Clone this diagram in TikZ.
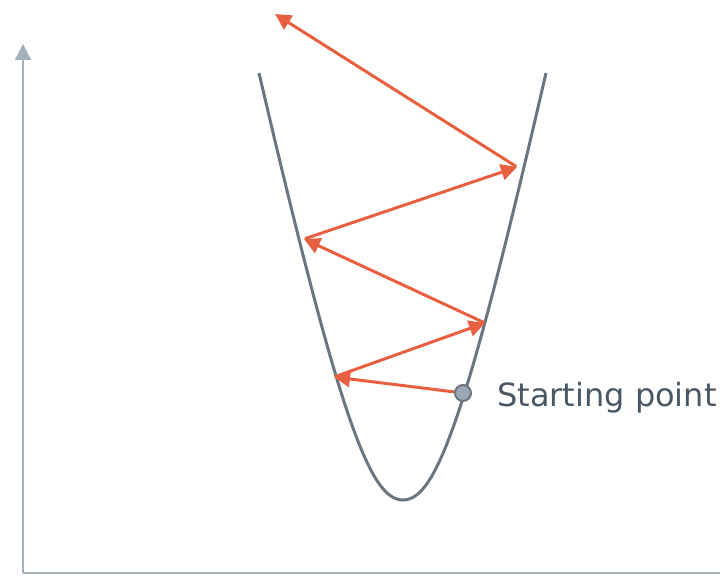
\documentclass[tikz,border=0pt]{standalone}
\usepackage{fontspec}
\setmainfont{DejaVu Sans}
\usetikzlibrary{arrows.meta,positioning}
\definecolor{axisgray}{HTML}{A3B0BB}
\definecolor{valleygray}{HTML}{6B7681}
\definecolor{stepred}{HTML}{E8603F}
\definecolor{dotfill}{HTML}{9AA7B4}
\definecolor{textgray}{HTML}{4A5866}
\tikzset{
  axisline/.style={axisgray,line width=1.4pt},
  valley/.style={valleygray,line width=3pt},
  steparrow/.style={->,stepred,line width=3pt,shorten <=1pt},
  startdot/.style={circle,fill=dotfill,draw=valleygray,line width=2pt,minimum size=16pt,inner sep=0pt},
}

\begin{document}
\begin{tikzpicture}[x=1pt,y=-1pt,>={Triangle[length=16pt,width=16pt]}]
\useasboundingbox (0,0) rectangle (720,578);
% axes
\coordinate (O) at (23,573);
\coordinate (Y) at (23,44);
\coordinate (X) at (720,573);
\draw[axisline,->] (O)--(Y);
\draw[axisline] (O)--(X);
% the valley
\draw[valley] (259,73) .. controls (340,420) and (370,500) .. (403,500)
  .. controls (436,500) and (466,420) .. (546,73);
% steps
\coordinate (s0) at (463,393);
\coordinate (s1) at (334,377);
\coordinate (s2) at (485,323);
\coordinate (s3) at (304,239);
\coordinate (s4) at (517,167);
\coordinate (s5) at (275,14);
\foreach \a/\b in {s0/s1,s1/s2,s2/s3,s3/s4,s4/s5}{
  \draw[steparrow] (\a)--(\b);
}
\node[startdot] (start) at (s0) {};
\node[anchor=base west,inner sep=0pt,text=textgray,font=\fontsize{32}{38}\selectfont]
  (startlabel) at (497,406) {Starting point};
\end{tikzpicture}
\end{document}
